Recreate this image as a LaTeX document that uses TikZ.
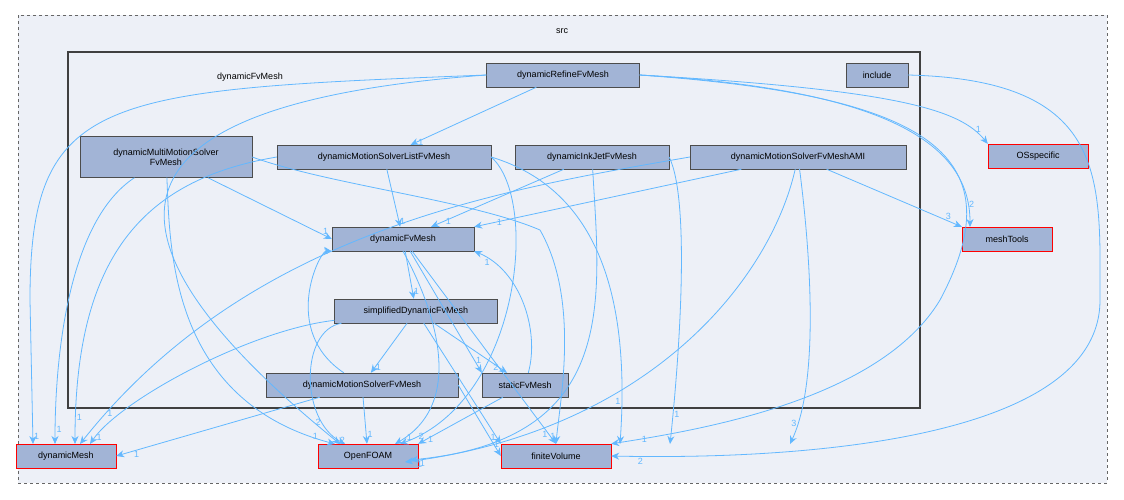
\documentclass[tikz,border=0pt]{standalone}
\usepackage{fontspec}
\setmainfont{Liberation Sans}
\usetikzlibrary{arrows.meta, positioning}
\definecolor{edgeblue}{HTML}{63B8FF}
\definecolor{nodefill}{HTML}{A2B4D6}
\definecolor{bgfill}{HTML}{EDF0F7}
\begin{document}
\begin{tikzpicture}[x=1pt, y=-1pt,
    dir/.style={rectangle, draw=black!70, fill=nodefill, minimum height=24pt, inner xsep=4pt, align=center, font=\fontsize{9}{10}\selectfont},
    ext/.style={dir, draw=red},
    dep/.style={-{Stealth[length=8pt,width=7pt]}, edgeblue, line width=0.8pt},
    num/.style={font=\fontsize{9}{10}\selectfont, text=edgeblue, inner sep=1pt}
]
\useasboundingbox (0,0) rectangle (1124,499);

% containers
\draw[dashed, black!60, fill=bgfill] (18,15) rectangle (1107,483);
\node[font=\fontsize{9}{10}\selectfont] (src) at (562,31) {src};
\draw[very thick, black!75] (68,52) rectangle (920,408);
\node[font=\fontsize{9}{10}\selectfont] (dyntitle) at (250,77) {dynamicFvMesh};

% directories
\node[dir, minimum width=153pt] (refine) at (563,75) {dynamicRefineFvMesh};
\node[dir, minimum width=62pt] (include) at (877,75) {include};
\node[dir, minimum width=172pt, minimum height=41pt] (multi) at (166,157) {dynamicMultiMotionSolver\\FvMesh};
\node[dir, minimum width=214pt] (list) at (384,157) {dynamicMotionSolverListFvMesh};
\node[dir, minimum width=154pt] (inkjet) at (592,157) {dynamicInkJetFvMesh};
\node[dir, minimum width=216pt] (ami) at (798,157) {dynamicMotionSolverFvMeshAMI};
\node[dir, minimum width=142pt] (dynfv) at (403,239) {dynamicFvMesh};
\node[dir, minimum width=163pt] (simplified) at (416,311) {simplifiedDynamicFvMesh};
\node[dir, minimum width=192pt] (motion) at (362,385) {dynamicMotionSolverFvMesh};
\node[dir, minimum width=86pt] (static) at (525,385) {staticFvMesh};
\node[ext, minimum width=100pt] (osspec) at (1038,156) {OSspecific};
\node[ext, minimum width=90pt] (meshtools) at (1007,239) {meshTools};
\node[ext, minimum width=100pt] (dynmesh) at (66,456) {dynamicMesh};
\node[ext, minimum width=100pt] (openfoam) at (368,456) {OpenFOAM};
\node[ext, minimum width=110pt] (finitevol) at (556,456) {finiteVolume};

% dependencies
\draw[dep] (refine.west) .. controls (100,90) and (30,95) .. (30,300) -- (33,444) node[num, pos=0.95, right] {1};
\draw[dep] (refine.west) .. controls (150,100) and (40,200) .. (340,444) node[num, pos=0.97, right] {2};
\draw[dep] (refine) -- (list) node[num, pos=0.95, right] {1};
\draw[dep] (refine.east) .. controls (900,90) and (960,110) .. (osspec.north west) node[num, pos=0.9, above] {1};
\draw[dep] (refine.east) .. controls (900,90) and (970,150) .. (970,227) node[num, pos=0.9, right] {2};
\draw[dep] (refine.east) .. controls (920,95) and (1020,150) .. (940,300) .. controls (880,400) and (700,430) .. (finitevol.north east) node[num, pos=0.9, right] {1};
\draw[dep] (include.east) .. controls (1110,80) and (1100,180) .. (1100,300) .. controls (1100,440) and (800,460) .. (finitevol.east) node[num, pos=0.95, below] {2};

\draw[dep] (multi) .. controls (70,220) and (55,350) .. (55,444) node[num, pos=0.95, right] {1};
\draw[dep] (multi) .. controls (170,250) and (170,400) .. (335,444) node[num, pos=0.95, right] {1};
\draw[dep] (multi) -- (dynfv.west) node[num, pos=0.95, above] {1};
\draw[dep] (multi.east) .. controls (330,185) and (470,200) .. (540,230) .. controls (580,300) and (560,400) .. (finitevol.north) node[num, pos=0.95, left] {1};

\draw[dep] (list.west) .. controls (140,180) and (75,260) .. (75,444) node[num, pos=0.95, right] {1};
\draw[dep] (list) -- (dynfv) node[num, pos=0.9, right] {1};
\draw[dep] (list.east) .. controls (540,200) and (520,400) .. (400,444) node[num, pos=0.95, right] {2};
\draw[dep] (list.east) .. controls (600,190) and (630,300) .. (620,444) node[num, pos=0.9, left] {1};

\draw[dep] (inkjet) -- (dynfv) node[num, pos=0.9, right] {1};
\draw[dep] (inkjet) .. controls (600,300) and (620,440) .. (410,460) node[num, pos=0.98, below] {1};
\draw[dep] (inkjet.east) .. controls (690,200) and (680,350) .. (670,444) node[num, pos=0.9, right] {1};

\draw[dep] (ami) -- (dynfv.north east) node[num, pos=0.92, right] {1};
\draw[dep] (ami.west) .. controls (500,190) and (250,230) .. (80,444) node[num, pos=0.95, right] {1};
\draw[dep] (ami) .. controls (770,280) and (650,430) .. (405,462) node[num, pos=0.98, below] {1};
\draw[dep] (ami) .. controls (810,250) and (820,380) .. (790,444) node[num, pos=0.9, left] {3};
\draw[dep] (ami) -- (meshtools.north west) node[num, pos=0.9, above] {3};

\draw[dep] (dynfv) -- (simplified) node[num, pos=0.85, right] {1};
\draw[dep] (dynfv) -- (static.north west) node[num, pos=0.9, right] {1};
\draw[dep] (dynfv) -- (finitevol.north) node[num, pos=0.95, left] {1};
\draw[dep] (dynfv.south) .. controls (430,300) and (470,400) .. (395,444) node[num, pos=0.95, right] {1};

\draw[dep] (simplified) .. controls (250,330) and (120,400) .. (90,444) node[num, pos=0.95, right] {1};
\draw[dep] (simplified) .. controls (300,330) and (300,420) .. (345,444) node[num, pos=0.95, right] {2};
\draw[dep] (simplified) -- (motion) node[num, pos=0.9, right] {1};
\draw[dep] (simplified) -- (static) node[num, pos=0.9, left] {2};
\draw[dep] (simplified) -- (finitevol.north west) node[num, pos=0.95, left] {1};

\draw[dep] (motion) .. controls (280,330) and (320,250) .. (dynfv.south west) node[num, pos=0.95, left] {1};
\draw[dep] (motion) -- (openfoam) node[num, pos=0.8, right] {1};
\draw[dep] (motion) -- (dynmesh.east) node[num, pos=0.9, below] {1};
\draw[dep] (motion.east) -- (finitevol.west) node[num, pos=0.9, above] {1};

\draw[dep] (static) .. controls (540,330) and (520,270) .. (dynfv.south east) node[num, pos=0.9, below] {1};
\draw[dep] (static) -- (openfoam.north east) node[num, pos=0.9, right] {1};
\end{tikzpicture}
\end{document}
